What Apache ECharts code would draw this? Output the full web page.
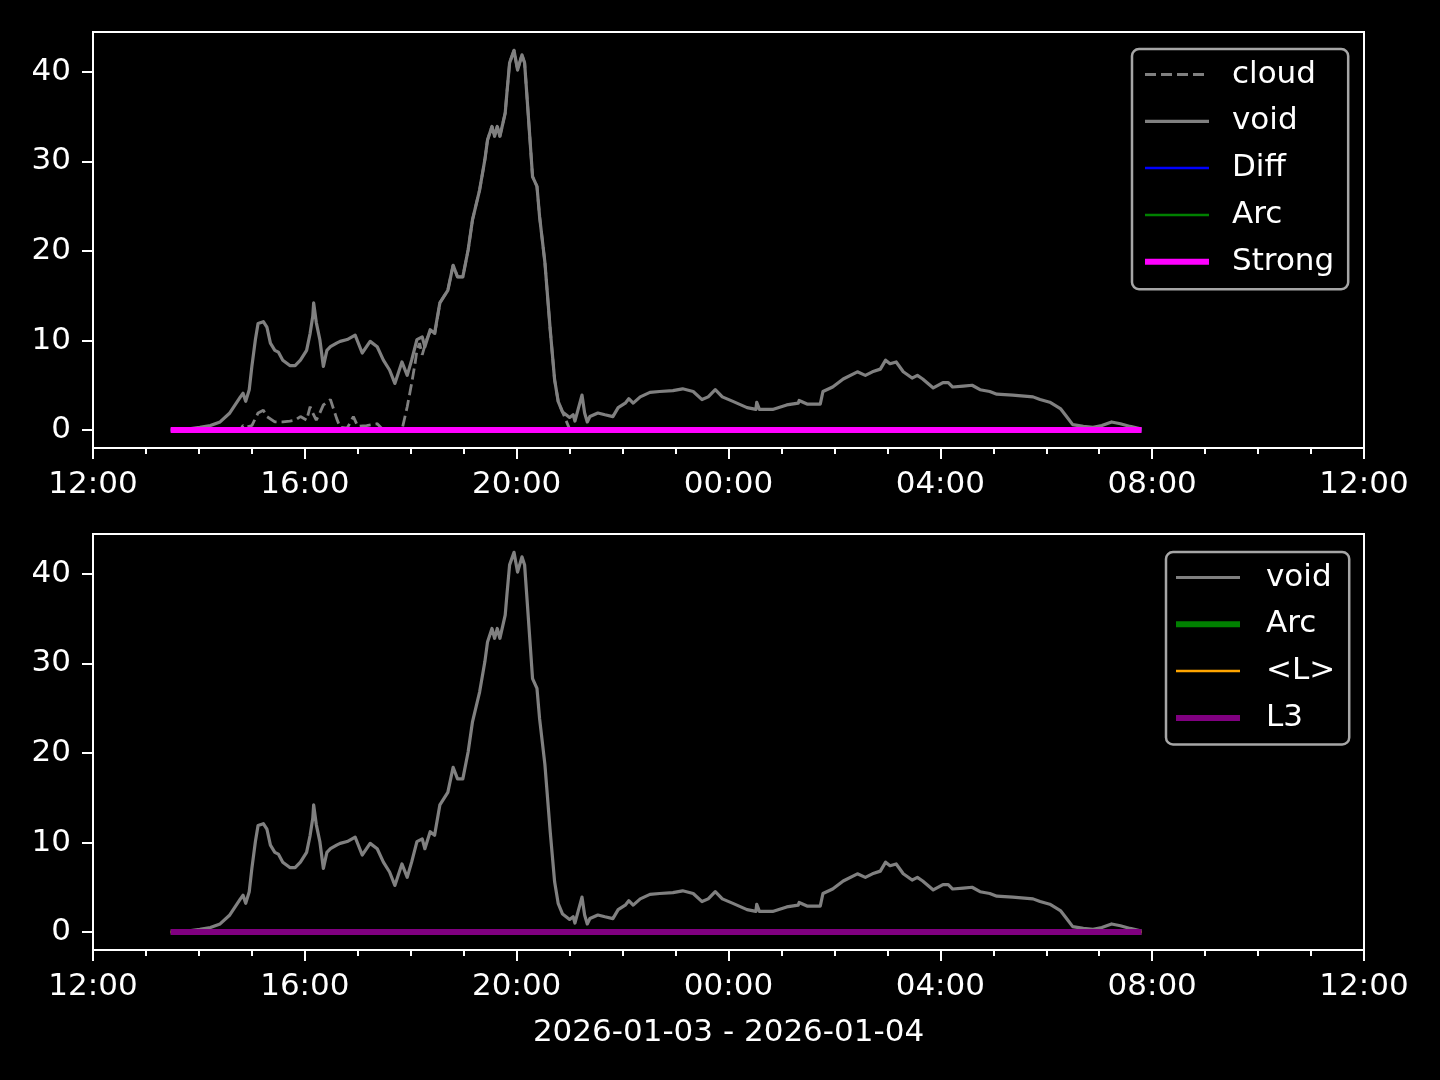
<!DOCTYPE html>
<html><head><meta charset="utf-8">
<script src="https://cdn.jsdelivr.net/npm/echarts@6/dist/echarts.min.js"></script>
<style>html,body{margin:0;padding:0;background:#000}#c{width:1440px;height:1080px}</style>
</head><body><div id="c"></div>
<script>
// ---- data (times are local clock, 2026-01-03 12:00 .. 2026-01-04 12:00) ----
const voidTimes = ["13:28","13:47","14:01","14:13","14:24","14:35","14:47","14:50","14:53","14:57","15:00","15:04","15:07","15:13","15:17","15:21","15:26","15:30","15:35","15:43","15:49","15:55","16:02","16:06","16:09","16:10","16:13","16:17","16:21","16:25","16:29","16:36","16:40","16:48","16:57","17:05","17:14","17:22","17:29","17:36","17:42","17:50","17:56","18:01","18:07","18:13","18:16","18:22","18:27","18:33","18:42","18:48","18:53","18:59","19:05","19:10","19:18","19:24","19:27","19:32","19:35","19:38","19:41","19:47","19:49","19:52","19:57","20:01","20:06","20:09","20:13","20:18","20:23","20:26","20:32","20:38","20:43","20:47","20:52","21:00","21:04","21:06","21:14","21:17","21:20","21:23","21:32","21:40","21:49","21:55","22:03","22:07","22:12","22:20","22:31","22:42","22:57","23:08","23:20","23:30","23:37","23:45","23:53","00:05","00:21","00:31","00:32","00:35","00:50","01:06","01:19","01:20","01:29","01:44","01:47","01:58","02:10","02:26","02:35","02:43","02:52","02:58","03:03","03:10","03:18","03:28","03:34","03:40","03:52","04:03","04:09","04:14","04:26","04:36","04:45","04:56","05:04","05:22","05:45","05:53","06:04","06:16","06:23","06:30","06:42","06:53","07:03","07:14","07:24","07:35","07:48"];
const voidValues = [0.0,0.1,0.3,0.5,0.9,1.9,3.7,4.1,3.2,4.5,7.1,10.1,11.9,12.1,11.5,9.7,8.9,8.7,7.8,7.2,7.2,7.8,8.9,10.8,12.7,14.2,12.0,10.1,7.1,8.9,9.3,9.7,9.9,10.1,10.6,8.6,9.9,9.3,7.8,6.7,5.2,7.6,6.1,7.8,10.1,10.4,9.3,11.2,10.8,14.2,15.6,18.4,17.1,17.1,20.1,23.5,26.8,30.2,32.4,33.9,32.8,33.9,32.8,35.4,37.7,41.0,42.4,40.2,41.9,41.0,35.4,28.3,27.2,23.8,18.7,11.2,5.6,3.2,2.0,1.4,1.7,1.0,3.9,1.9,0.9,1.5,1.9,1.7,1.5,2.5,3.0,3.5,3.0,3.7,4.2,4.3,4.4,4.6,4.3,3.4,3.7,4.5,3.7,3.2,2.5,2.3,3.1,2.3,2.3,2.8,3.0,3.3,2.9,2.9,4.3,4.8,5.7,6.5,6.1,6.5,6.8,7.8,7.4,7.6,6.5,5.8,6.1,5.7,4.7,5.3,5.3,4.8,4.9,5.0,4.5,4.3,4.0,3.9,3.7,3.4,3.1,2.4,1.5,0.6,0.4,0.3,0.5,0.9,0.7,0.4,0.1];

const cloudTimes = ["13:28","14:47","14:50","14:53","15:00","15:07","15:13","15:17","15:26","15:35","15:43","15:49","15:55","16:02","16:06","16:09","16:13","16:17","16:21","16:29","16:36","16:40","16:48","16:55","17:00","17:10","17:22","17:27","17:50","17:56","18:01","18:05","18:07","18:10","18:13","18:18","18:22","18:27","18:33","18:42","18:48","18:53","18:59","19:05","19:10","19:18","19:24","19:27","19:32","19:35","19:38","19:41","19:47","19:49","19:52","19:57","20:01","20:06","20:09","20:13","20:18","20:23","20:26","20:32","20:38","20:43","20:47","20:52","21:00","21:23","21:49","22:12","23:45","00:32","01:06","01:29","02:10","03:00","03:40","04:30","05:30","07:48"];
const cloudValues = [0.0,0.0,0.5,0.3,0.5,1.9,2.2,1.5,0.9,0.9,1.0,1.1,1.5,1.1,2.6,1.9,1.1,1.9,2.8,3.4,1.3,0.3,0.2,1.5,0.4,0.5,0.7,0.2,0.0,2.6,5.2,7.5,8.9,9.7,8.4,10.1,11.0,10.6,14.2,15.6,18.4,17.1,17.1,20.1,23.5,26.8,30.2,32.4,33.9,32.8,33.9,32.8,35.4,37.7,41.0,42.4,40.2,41.9,41.0,35.4,28.3,27.2,23.8,18.7,11.2,5.6,3.2,2.0,0.1,0.15,0.05,0.1,0.15,0.15,0.1,0.15,0.15,0.15,0.15,0.1,0.05,0.0];

const flatTimes = ["13:28","07:48"];
const diffValues = [0, 0];
const arcTopValues = [0, 0];
const strongValues = [0, 0];
const arcBottomValues = [0, 0];
const meanLValues = [0, 0];
const l3Values = [0, 0];

const xTickLabels = ["12:00","16:00","20:00","00:00","04:00","08:00","12:00"];
const yTickValues = [0, 10, 20, 30, 40];
const dateLabel = "2026-01-03 - 2026-01-04";

// ---- helpers ----
function toHours(t){ const p=t.split(':').map(Number); let v=p[0]+p[1]/60; if(p[0]<12) v+=24; return v; }
function pairs(times, vals){ return times.map((t,i)=>[toHours(t), vals[i]]); }

const FONT = 'DejaVu Sans';
const FS = 31;
const WHITE = '#ffffff';

function xAxis(grid, withName){
  const a = {
    type:'value', gridIndex:grid, min:12, max:36, interval:4,
    axisLine:{show:true, onZero:false, lineStyle:{color:WHITE, width:2}},
    axisTick:{show:true, inside:false, length:11, lineStyle:{color:WHITE, width:2}},
    minorTick:{show:true, splitNumber:4, length:6, lineStyle:{color:WHITE, width:2}},
    splitLine:{show:false}, minorSplitLine:{show:false},
    axisLabel:{color:WHITE, fontFamily:FONT, fontSize:FS, margin:21,
      formatter:(v)=>xTickLabels[Math.round((v-12)/4)]}
  };
  if (withName){
    a.name = dateLabel; a.nameLocation='middle'; a.nameGap=67;
    a.nameTextStyle={color:WHITE, fontFamily:FONT, fontSize:FS};
  }
  return a;
}
function yAxis(grid){
  return {
    type:'value', gridIndex:grid, min:-2.01, max:44.45,
    axisLine:{show:true, onZero:false, lineStyle:{color:WHITE, width:2}},
    axisTick:{show:true, inside:false, length:11, customValues:yTickValues, lineStyle:{color:WHITE, width:2}},
    splitLine:{show:false},
    axisLabel:{color:WHITE, fontFamily:FONT, fontSize:FS, margin:22, padding:[7,0,0,0], customValues:yTickValues}
  };
}
function line(name, x, y, data, color, width, extra){
  return Object.assign({
    type:'line', name, xAxisIndex:x, yAxisIndex:y, data,
    symbol:'none', showSymbol:false, smooth:false, animation:false, silent:true,
    lineStyle:{color, width, cap:'butt', join:'round'}, itemStyle:{color}
  }, extra||{});
}

const legendCommon = {
  orient:'vertical', itemWidth:64, itemHeight:20, itemGap:15.8,
  backgroundColor:'#000', borderColor:'#a6a6a6', borderWidth:2.5, borderRadius:7,
  lineStyle:{width:'inherit'}, itemStyle:{opacity:0, borderWidth:0}, selectedMode:false
};
function legendText(pad){
  return {color:WHITE, fontFamily:FONT, fontSize:FS, lineHeight:31, padding:[0,0,0,pad]};
}

const option = {
  backgroundColor:'#000',
  animation:false,
  grid:[
    {left:93, right:76, top:32, height:416, show:true, borderColor:WHITE, borderWidth:2, backgroundColor:'#000'},
    {left:93, right:76, top:534, height:416, show:true, borderColor:WHITE, borderWidth:2, backgroundColor:'#000'}
  ],
  xAxis:[xAxis(0,false), xAxis(1,true)],
  yAxis:[yAxis(0), yAxis(1)],
  legend:[
    Object.assign({}, legendCommon, {left:1132, top:49, padding:[10,14,12,10], textStyle:legendText(18),
      data:['cloud','void','Diff',{name:'Arc', lineStyle:{width:2.5}},'Strong']}),
    Object.assign({}, legendCommon, {left:1166, top:552, padding:[10,14,11,7], textStyle:legendText(21),
      data:['void',{name:'Arc', lineStyle:{width:6}},'<L>','L3']})
  ],
  series:[
    line('cloud',0,0,pairs(cloudTimes,cloudValues),'#808080',2.8,{lineStyle:{color:'#808080',width:2.8,type:[11,5]}}),
    line('void',0,0,pairs(voidTimes,voidValues),'#808080',3.2),
    line('Diff',0,0,pairs(flatTimes,diffValues),'#0000ff',2.5),
    line('Arc',0,0,pairs(flatTimes,arcTopValues),'#008000',2.5),
    line('Strong',0,0,pairs(flatTimes,strongValues),'#ff00ff',6),
    line('void',1,1,pairs(voidTimes,voidValues),'#808080',3.2),
    line('Arc',1,1,pairs(flatTimes,arcBottomValues),'#008000',6),
    line('<L>',1,1,pairs(flatTimes,meanLValues),'#ffa500',2.5),
    line('L3',1,1,pairs(flatTimes,l3Values),'#800080',6)
  ]
};
const chart = echarts.init(document.getElementById('c'), null, {renderer:'canvas'});
chart.setOption(option);
</script></body></html>
